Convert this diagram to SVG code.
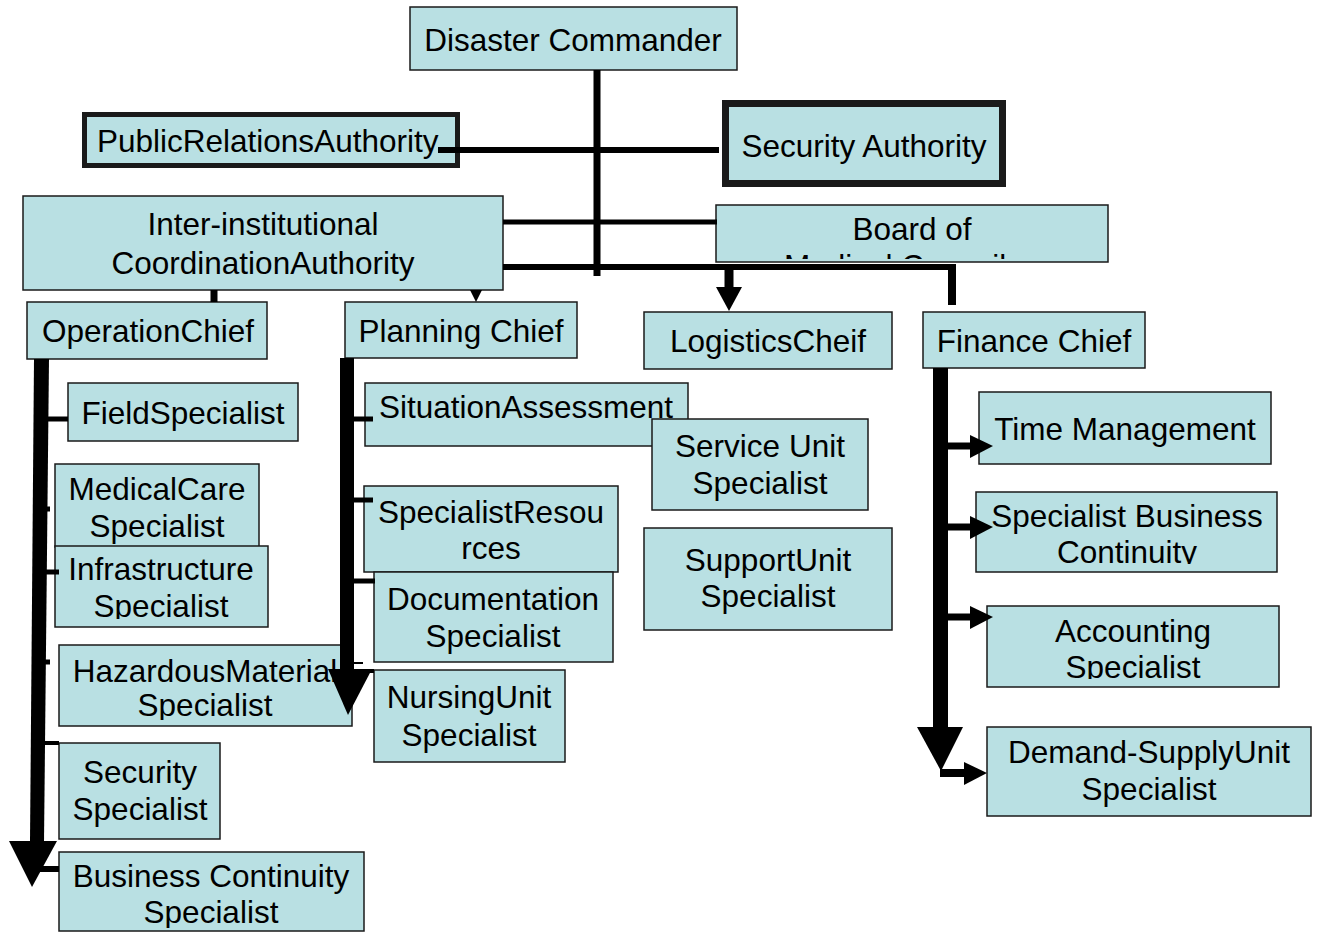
<svg xmlns="http://www.w3.org/2000/svg" width="1319" height="933" viewBox="0 0 1319 933">
<style>
.box{fill:#B9E0E3;stroke:#1a1a1a;stroke-width:1.5}
.thick5{stroke-width:5}
.thick7{stroke-width:7}
text{font-family:"Liberation Sans",Arial,sans-serif;font-size:31.5px;fill:#000}
.c{text-anchor:middle}
.ln{stroke:#000;fill:none}
.hd{fill:#000;stroke:none}
</style>
<defs>
<clipPath id="cpBoard"><rect x="716" y="205" width="392" height="54"/></clipPath>
<clipPath id="cpInfra"><rect x="55" y="546" width="213" height="73"/></clipPath>
<clipPath id="cpHaz"><rect x="59" y="645" width="293" height="75"/></clipPath>
<clipPath id="cpBiz"><rect x="59" y="852" width="305" height="76"/></clipPath>
<clipPath id="cpSbc"><rect x="976" y="492" width="301" height="72"/></clipPath>
<clipPath id="cpAcc"><rect x="987" y="606" width="292" height="73"/></clipPath>
</defs>

<g id="disaster-commander">
<rect class="box" x="410" y="7" width="327" height="63"/>
<text class="c" x="573" y="51">Disaster Commander</text>
</g>
<g id="public-relations">
<rect class="box thick5" x="84.5" y="114.5" width="373" height="51"/>
<text x="97" y="152">PublicRelationsAuthority</text>
</g>
<g id="security-authority">
<rect class="box thick7" x="725.5" y="103.5" width="277" height="80"/>
<text class="c" x="864" y="157">Security Authority</text>
</g>
<g id="inter-institutional">
<rect class="box" x="23" y="196" width="480" height="94"/>
<text class="c" x="263" y="235">Inter-institutional</text>
<text class="c" x="263" y="274">CoordinationAuthority</text>
</g>
<g id="board">
<rect class="box" x="716" y="205" width="392" height="57"/>
<text class="c" x="912" y="240">Board of</text>
<text x="784" y="277" clip-path="url(#cpBoard)">Medical Council</text>
</g>
<g id="operation-chief">
<rect class="box" x="27" y="302" width="240" height="57"/>
<text class="c" x="148" y="342">OperationChief</text>
</g>
<g id="planning-chief">
<rect class="box" x="345" y="302" width="232" height="56"/>
<text class="c" x="461" y="342">Planning Chief</text>
</g>
<g id="logistics-chief">
<rect class="box" x="644" y="312" width="248" height="57"/>
<text class="c" x="768" y="352">LogisticsCheif</text>
</g>
<g id="finance-chief">
<rect class="box" x="923" y="312" width="222" height="56"/>
<text class="c" x="1034" y="352">Finance Chief</text>
</g>

<g id="field-specialist">
<rect class="box" x="68" y="383" width="230" height="58"/>
<text class="c" x="183" y="424">FieldSpecialist</text>
</g>
<g id="medicalcare-specialist">
<rect class="box" x="55" y="464" width="204" height="83"/>
<text class="c" x="157" y="500">MedicalCare</text>
<text class="c" x="157" y="537">Specialist</text>
</g>
<g id="infrastructure-specialist">
<rect class="box" x="55" y="546" width="213" height="81"/>
<g clip-path="url(#cpInfra)">
<text class="c" x="161" y="580">Infrastructure</text>
<text class="c" x="161" y="617">Specialist</text>
</g>
</g>
<g id="hazardous-specialist">
<rect class="box" x="59" y="645" width="293" height="81"/>
<g clip-path="url(#cpHaz)">
<text class="c" x="205" y="682">HazardousMaterial</text>
<text class="c" x="205" y="716">Specialist</text>
</g>
</g>
<g id="security-specialist">
<rect class="box" x="59" y="743" width="161" height="96"/>
<text class="c" x="140" y="783">Security</text>
<text class="c" x="140" y="820">Specialist</text>
</g>
<g id="business-continuity-specialist">
<rect class="box" x="59" y="852" width="305" height="79"/>
<g clip-path="url(#cpBiz)">
<text class="c" x="211" y="887">Business Continuity</text>
<text class="c" x="211" y="923">Specialist</text>
</g>
</g>

<g id="situation-assessment">
<rect class="box" x="365" y="383" width="323" height="63"/>
<text class="c" x="526" y="418">SituationAssessment</text>
</g>
<g id="service-unit-specialist">
<rect class="box" x="652" y="419" width="216" height="91"/>
<text class="c" x="760" y="457">Service Unit</text>
<text class="c" x="760" y="494">Specialist</text>
</g>
<g id="specialist-resources">
<rect class="box" x="364" y="486" width="254" height="86"/>
<text class="c" x="491" y="523">SpecialistResou</text>
<text class="c" x="491" y="559">rces</text>
</g>
<g id="documentation-specialist">
<rect class="box" x="374" y="572" width="239" height="90"/>
<text class="c" x="493" y="610">Documentation</text>
<text class="c" x="493" y="647">Specialist</text>
</g>
<g id="nursingunit-specialist">
<rect class="box" x="374" y="670" width="191" height="92"/>
<text class="c" x="469" y="708">NursingUnit</text>
<text class="c" x="469" y="746">Specialist</text>
</g>
<g id="supportunit-specialist">
<rect class="box" x="644" y="528" width="248" height="102"/>
<text class="c" x="768" y="571">SupportUnit</text>
<text class="c" x="768" y="607">Specialist</text>
</g>

<g id="time-management">
<rect class="box" x="979" y="392" width="292" height="72"/>
<text class="c" x="1125" y="440">Time Management</text>
</g>
<g id="specialist-business-continuity">
<rect class="box" x="976" y="492" width="301" height="80"/>
<g clip-path="url(#cpSbc)">
<text class="c" x="1127" y="527">Specialist Business</text>
<text class="c" x="1127" y="563">Continuity</text>
</g>
</g>
<g id="accounting-specialist">
<rect class="box" x="987" y="606" width="292" height="81"/>
<g clip-path="url(#cpAcc)">
<text class="c" x="1133" y="642">Accounting</text>
<text class="c" x="1133" y="678">Specialist</text>
</g>
</g>
<g id="demand-supply-specialist">
<rect class="box" x="987" y="727" width="324" height="89"/>
<text class="c" x="1149" y="763">Demand-SupplyUnit</text>
<text class="c" x="1149" y="800">Specialist</text>
</g>

<g id="connectors">
<line class="ln" x1="597" y1="70" x2="597" y2="276" stroke-width="7"/>
<line class="ln" x1="438" y1="150" x2="719" y2="150" stroke-width="6"/>
<line class="ln" x1="503" y1="222" x2="717" y2="222" stroke-width="5"/>
<line class="ln" x1="503" y1="267" x2="956" y2="267" stroke-width="6"/>
<line class="ln" x1="729" y1="267" x2="729" y2="289" stroke-width="9"/>
<polygon class="hd" points="716,287 742,287 729,311"/>
<line class="ln" x1="952" y1="267" x2="952" y2="305" stroke-width="8"/>
<line class="ln" x1="214" y1="290" x2="214" y2="302" stroke-width="7"/>
<polygon class="hd" points="470,290 482,290 476,302"/>

<polygon class="hd" points="34,359 49,359 44,842 30,842"/>
<polygon class="hd" points="9,841 57,841 32,887"/>
<line class="ln" x1="45" y1="419" x2="68" y2="419" stroke-width="5"/>
<line class="ln" x1="45" y1="509" x2="50" y2="509" stroke-width="5"/>
<line class="ln" x1="44" y1="572" x2="59" y2="572" stroke-width="5"/>
<line class="ln" x1="42" y1="662" x2="50" y2="662" stroke-width="5"/>
<line class="ln" x1="41" y1="743" x2="59" y2="743" stroke-width="4"/>
<line class="ln" x1="38" y1="869" x2="59" y2="869" stroke-width="6"/>

<rect class="hd" x="340" y="358" width="14" height="312"/>
<polygon class="hd" points="328,669 372,669 348,715"/>
<line class="ln" x1="354" y1="419" x2="373" y2="419" stroke-width="5"/>
<line class="ln" x1="354" y1="500" x2="373" y2="500" stroke-width="5"/>
<line class="ln" x1="354" y1="581" x2="375" y2="581" stroke-width="5"/>
<line class="ln" x1="353" y1="663" x2="363" y2="663" stroke-width="2"/>
<line class="ln" x1="353" y1="671" x2="374" y2="671" stroke-width="4"/>

<rect class="hd" x="933" y="368" width="15" height="361"/>
<polygon class="hd" points="917,727 963,727 941,771"/>
<line class="ln" x1="946" y1="446" x2="972" y2="446" stroke-width="7"/>
<polygon class="hd" points="970,435 970,458 993,446"/>
<line class="ln" x1="946" y1="527" x2="972" y2="527" stroke-width="7"/>
<polygon class="hd" points="970,516 970,539 993,527"/>
<line class="ln" x1="946" y1="617" x2="972" y2="617" stroke-width="7"/>
<polygon class="hd" points="970,606 970,629 993,617"/>
<line class="ln" x1="940" y1="773" x2="966" y2="773" stroke-width="8"/>
<polygon class="hd" points="964,762 964,785 987,773"/>
</g>
</svg>
